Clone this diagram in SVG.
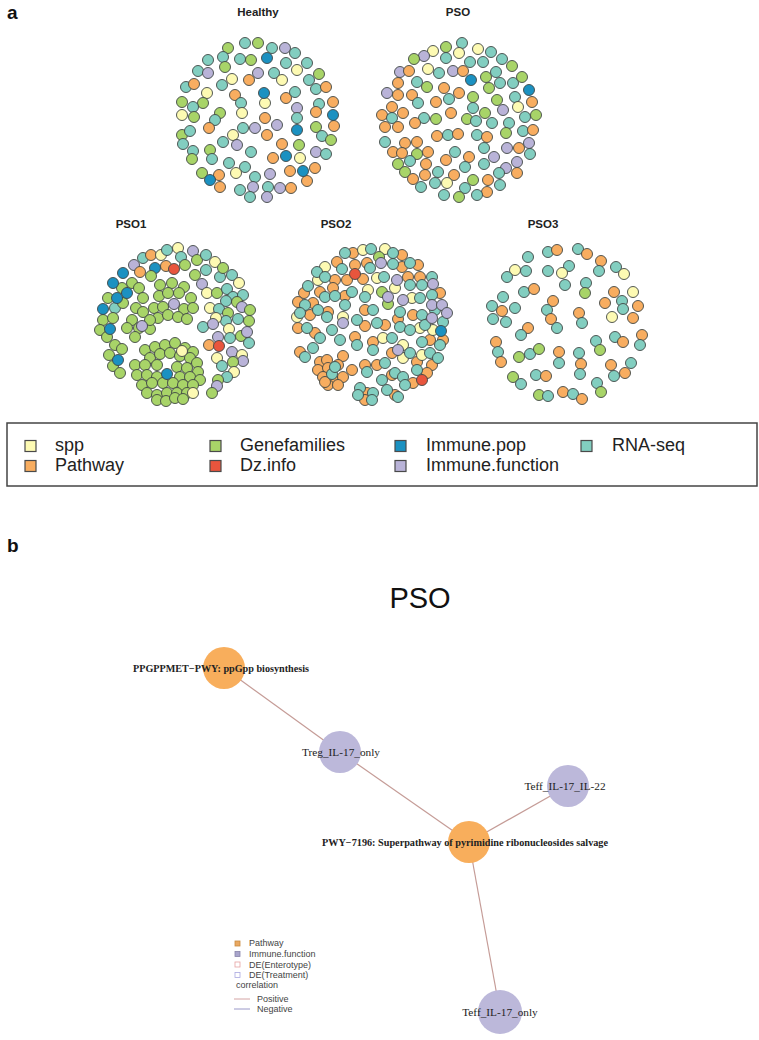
<svg xmlns="http://www.w3.org/2000/svg" width="759" height="1040" viewBox="0 0 759 1040">
<style>
.dots circle{r:5.5px;stroke:#3f4644;stroke-width:.9}
.y{fill:#fdfab3}.o{fill:#f8ad60}.g{fill:#a8d468}.r{fill:#e8553d}.b{fill:#1b91c1}.l{fill:#b9b3d8}.t{fill:#82cec0}
.ttl{font-family:"Liberation Sans",Arial,sans-serif;font-weight:bold;font-size:11.5px;fill:#222;text-anchor:middle}
.pl{font-family:"Liberation Sans",Arial,sans-serif;font-weight:bold;font-size:19px;fill:#111}
.lg{font-family:"Liberation Sans",Arial,sans-serif;font-size:18px;fill:#222}
.sw{stroke:#4a4a4a;stroke-width:1.2}
.nl{font-family:"Liberation Serif","Times New Roman",serif;font-size:11.3px;fill:#222;text-anchor:middle}
.nb{font-family:"Liberation Serif","Times New Roman",serif;font-size:10.5px;font-weight:bold;fill:#222;text-anchor:middle}
.edge{stroke:#c59c97;stroke-width:1.2;fill:none}
.bl{font-family:"Liberation Sans",Arial,sans-serif;font-size:9px;fill:#444}
</style>
<rect width="759" height="1040" fill="#fff"/>
<text class="pl" x="7" y="19">a</text>
<text class="ttl" x="258" y="16">Healthy</text>
<text class="ttl" x="458" y="16">PSO</text>
<text class="ttl" x="131" y="228">PSO1</text>
<text class="ttl" x="336" y="228">PSO2</text>
<text class="ttl" x="543" y="228">PSO3</text>
<g id="net-healthy" class="dots">
<circle class="t" cx="245" cy="43"/><circle class="g" cx="258" cy="43"/><circle class="t" cx="272" cy="48"/><circle class="l" cx="285" cy="48"/><circle class="t" cx="295" cy="53"/><circle class="g" cx="228" cy="48"/><circle class="t" cx="223" cy="57"/><circle class="g" cx="225" cy="67"/><circle class="t" cx="208" cy="60"/><circle class="t" cx="198" cy="71"/><circle class="l" cx="208" cy="73"/><circle class="t" cx="240" cy="59"/><circle class="g" cx="251" cy="60"/><circle class="b" cx="267" cy="58"/><circle class="t" cx="286" cy="63"/><circle class="y" cx="297" cy="70"/><circle class="t" cx="307" cy="63"/><circle class="l" cx="258" cy="73"/><circle class="o" cx="249" cy="80"/><circle class="t" cx="274" cy="73"/><circle class="y" cx="282" cy="80"/><circle class="y" cx="232" cy="79"/><circle class="t" cx="222" cy="85"/><circle class="g" cx="319" cy="74"/><circle class="t" cx="309" cy="80"/><circle class="t" cx="316" cy="89"/><circle class="o" cx="326" cy="87"/><circle class="t" cx="186" cy="87"/><circle class="o" cx="194" cy="84"/><circle class="y" cx="207" cy="93"/><circle class="g" cx="203" cy="103"/><circle class="t" cx="193" cy="107"/><circle class="g" cx="182" cy="102"/><circle class="y" cx="182" cy="115"/><circle class="g" cx="194" cy="117"/><circle class="o" cx="235" cy="95"/><circle class="t" cx="241" cy="103"/><circle class="y" cx="242" cy="113"/><circle class="y" cx="265" cy="103"/><circle class="b" cx="264" cy="93"/><circle class="o" cx="286" cy="98"/><circle class="t" cx="295" cy="92"/><circle class="t" cx="319" cy="104"/><circle class="o" cx="316" cy="112"/><circle class="o" cx="333" cy="102"/><circle class="o" cx="334" cy="126"/><circle class="b" cx="333" cy="115"/><circle class="l" cx="297" cy="108"/><circle class="t" cx="297" cy="118"/><circle class="b" cx="297" cy="130"/><circle class="o" cx="265" cy="118"/><circle class="l" cx="277" cy="125"/><circle class="o" cx="267" cy="135"/><circle class="g" cx="220" cy="113"/><circle class="t" cx="215" cy="120"/><circle class="o" cx="209" cy="128"/><circle class="t" cx="243" cy="128"/><circle class="l" cx="255" cy="128"/><circle class="g" cx="182" cy="135"/><circle class="t" cx="190" cy="131"/><circle class="t" cx="183" cy="144"/><circle class="y" cx="233" cy="135"/><circle class="t" cx="223" cy="142"/><circle class="l" cx="237" cy="145"/><circle class="g" cx="316" cy="127"/><circle class="t" cx="322" cy="136"/><circle class="g" cx="331" cy="140"/><circle class="o" cx="282" cy="144"/><circle class="g" cx="299" cy="145"/><circle class="y" cx="300" cy="158"/><circle class="o" cx="273" cy="158"/><circle class="b" cx="286" cy="156"/><circle class="l" cx="316" cy="152"/><circle class="t" cx="326" cy="154"/><circle class="g" cx="210" cy="150"/><circle class="t" cx="212" cy="159"/><circle class="t" cx="193" cy="151"/><circle class="g" cx="192" cy="159"/><circle class="t" cx="251" cy="152"/><circle class="t" cx="229" cy="163"/><circle class="t" cx="245" cy="167"/><circle class="y" cx="236" cy="173"/><circle class="g" cx="202" cy="173"/><circle class="o" cx="219" cy="175"/><circle class="o" cx="220" cy="187"/><circle class="b" cx="210" cy="180"/><circle class="o" cx="315" cy="168"/><circle class="o" cx="290" cy="171"/><circle class="o" cx="307" cy="181"/><circle class="b" cx="303" cy="171"/><circle class="t" cx="255" cy="177"/><circle class="l" cx="253" cy="187"/><circle class="t" cx="240" cy="190"/><circle class="t" cx="250" cy="197"/><circle class="l" cx="270" cy="174"/><circle class="t" cx="268" cy="187"/><circle class="l" cx="267" cy="197"/><circle class="l" cx="280" cy="188"/><circle class="o" cx="291" cy="188"/>
</g>
<g id="net-pso" class="dots">
<circle class="t" cx="462" cy="43"/><circle class="g" cx="446" cy="47"/><circle class="y" cx="433" cy="51"/><circle class="y" cx="459" cy="53"/><circle class="y" cx="478" cy="49"/><circle class="t" cx="491" cy="52"/><circle class="l" cx="424" cy="56"/><circle class="g" cx="414" cy="59"/><circle class="t" cx="446" cy="58"/><circle class="t" cx="470" cy="62"/><circle class="t" cx="483" cy="62"/><circle class="t" cx="502" cy="59"/><circle class="g" cx="512" cy="66"/><circle class="l" cx="400" cy="72"/><circle class="o" cx="409" cy="71"/><circle class="y" cx="428" cy="69"/><circle class="t" cx="439" cy="73"/><circle class="l" cx="453" cy="71"/><circle class="o" cx="463" cy="71"/><circle class="b" cx="471" cy="80"/><circle class="g" cx="486" cy="77"/><circle class="t" cx="496" cy="72"/><circle class="t" cx="500" cy="83"/><circle class="g" cx="489" cy="88"/><circle class="t" cx="513" cy="83"/><circle class="g" cx="522" cy="77"/><circle class="o" cx="398" cy="83"/><circle class="t" cx="417" cy="82"/><circle class="g" cx="427" cy="87"/><circle class="l" cx="387" cy="93"/><circle class="o" cx="398" cy="95"/><circle class="o" cx="444" cy="88"/><circle class="o" cx="459" cy="93"/><circle class="o" cx="436" cy="102"/><circle class="t" cx="449" cy="99"/><circle class="o" cx="451" cy="113"/><circle class="o" cx="412" cy="95"/><circle class="t" cx="418" cy="103"/><circle class="g" cx="473" cy="97"/><circle class="t" cx="473" cy="108"/><circle class="g" cx="497" cy="100"/><circle class="l" cx="503" cy="110"/><circle class="t" cx="515" cy="97"/><circle class="b" cx="529" cy="90"/><circle class="o" cx="532" cy="102"/><circle class="y" cx="518" cy="107"/><circle class="o" cx="392" cy="107"/><circle class="o" cx="403" cy="113"/><circle class="o" cx="382" cy="115"/><circle class="t" cx="392" cy="118"/><circle class="o" cx="385" cy="127"/><circle class="o" cx="398" cy="127"/><circle class="t" cx="424" cy="118"/><circle class="g" cx="436" cy="119"/><circle class="o" cx="415" cy="123"/><circle class="g" cx="485" cy="113"/><circle class="g" cx="467" cy="119"/><circle class="t" cx="476" cy="121"/><circle class="t" cx="492" cy="123"/><circle class="t" cx="509" cy="123"/><circle class="t" cx="525" cy="117"/><circle class="g" cx="536" cy="115"/><circle class="g" cx="506" cy="133"/><circle class="t" cx="523" cy="131"/><circle class="o" cx="533" cy="130"/><circle class="o" cx="437" cy="136"/><circle class="t" cx="448" cy="135"/><circle class="o" cx="458" cy="134"/><circle class="t" cx="477" cy="135"/><circle class="o" cx="487" cy="137"/><circle class="t" cx="385" cy="142"/><circle class="o" cx="393" cy="152"/><circle class="o" cx="405" cy="143"/><circle class="o" cx="417" cy="142"/><circle class="o" cx="402" cy="153"/><circle class="g" cx="417" cy="154"/><circle class="o" cx="428" cy="152"/><circle class="t" cx="484" cy="148"/><circle class="l" cx="507" cy="148"/><circle class="o" cx="519" cy="148"/><circle class="l" cx="529" cy="143"/><circle class="t" cx="530" cy="154"/><circle class="t" cx="455" cy="152"/><circle class="o" cx="446" cy="160"/><circle class="o" cx="469" cy="157"/><circle class="t" cx="410" cy="161"/><circle class="g" cx="398" cy="164"/><circle class="g" cx="405" cy="172"/><circle class="o" cx="426" cy="164"/><circle class="o" cx="425" cy="175"/><circle class="l" cx="494" cy="157"/><circle class="t" cx="484" cy="164"/><circle class="l" cx="506" cy="168"/><circle class="l" cx="517" cy="162"/><circle class="o" cx="517" cy="173"/><circle class="t" cx="465" cy="167"/><circle class="t" cx="438" cy="172"/><circle class="o" cx="413" cy="179"/><circle class="t" cx="421" cy="187"/><circle class="o" cx="454" cy="175"/><circle class="y" cx="447" cy="183"/><circle class="t" cx="435" cy="183"/><circle class="t" cx="444" cy="195"/><circle class="g" cx="473" cy="180"/><circle class="t" cx="465" cy="188"/><circle class="g" cx="459" cy="197"/><circle class="t" cx="499" cy="173"/><circle class="o" cx="488" cy="180"/><circle class="t" cx="500" cy="185"/><circle class="o" cx="487" cy="192"/><circle class="t" cx="477" cy="195"/>
</g>
<g id="net-pso1" class="dots">
<circle class="t" cx="143" cy="258"/><circle class="o" cx="151" cy="255"/><circle class="y" cx="161" cy="255"/><circle class="t" cx="167" cy="250"/><circle class="y" cx="178" cy="248"/><circle class="t" cx="181" cy="257"/><circle class="l" cx="193" cy="251"/><circle class="g" cx="197" cy="260"/><circle class="t" cx="206" cy="255"/><circle class="y" cx="215" cy="262"/><circle class="l" cx="134" cy="265"/><circle class="o" cx="140" cy="272"/><circle class="o" cx="166" cy="266"/><circle class="b" cx="155" cy="268"/><circle class="r" cx="174" cy="269"/><circle class="g" cx="185" cy="265"/><circle class="g" cx="151" cy="276"/><circle class="g" cx="132" cy="283"/><circle class="g" cx="139" cy="288"/><circle class="g" cx="122" cy="288"/><circle class="g" cx="108" cy="298"/><circle class="t" cx="115" cy="308"/><circle class="g" cx="123" cy="303"/><circle class="g" cx="103" cy="320"/><circle class="g" cx="113" cy="318"/><circle class="g" cx="100" cy="330"/><circle class="g" cx="107" cy="337"/><circle class="g" cx="115" cy="345"/><circle class="g" cx="122" cy="349"/><circle class="g" cx="109" cy="355"/><circle class="g" cx="113" cy="366"/><circle class="g" cx="120" cy="373"/><circle class="b" cx="123" cy="273"/><circle class="b" cx="113" cy="283"/><circle class="b" cx="127" cy="293"/><circle class="b" cx="117" cy="298"/><circle class="b" cx="103" cy="309"/><circle class="b" cx="110" cy="329"/><circle class="b" cx="118" cy="360"/>
<circle class="g" cx="160" cy="285"/><circle class="g" cx="172" cy="283"/><circle class="g" cx="184" cy="287"/><circle class="g" cx="159" cy="296"/><circle class="g" cx="168" cy="293"/><circle class="g" cx="179" cy="293"/><circle class="g" cx="191" cy="298"/><circle class="g" cx="154" cy="308"/><circle class="g" cx="163" cy="307"/><circle class="g" cx="184" cy="309"/><circle class="g" cx="193" cy="308"/><circle class="g" cx="158" cy="318"/><circle class="g" cx="168" cy="315"/><circle class="g" cx="178" cy="317"/><circle class="g" cx="187" cy="319"/><circle class="g" cx="143" cy="298"/><circle class="g" cx="136" cy="308"/><circle class="g" cx="132" cy="320"/><circle class="g" cx="139" cy="328"/><circle class="g" cx="150" cy="329"/><circle class="g" cx="127" cy="328"/><circle class="g" cx="135" cy="337"/><circle class="g" cx="143" cy="312"/><circle class="g" cx="150" cy="320"/><circle class="l" cx="174" cy="304"/><circle class="l" cx="142" cy="326"/>
<circle class="g" cx="145" cy="350"/><circle class="g" cx="155" cy="347"/><circle class="g" cx="165" cy="345"/><circle class="g" cx="175" cy="343"/><circle class="g" cx="185" cy="348"/><circle class="g" cx="193" cy="352"/><circle class="g" cx="150" cy="358"/><circle class="g" cx="160" cy="354"/><circle class="g" cx="170" cy="353"/><circle class="g" cx="180" cy="356"/><circle class="g" cx="190" cy="358"/><circle class="g" cx="197" cy="363"/><circle class="g" cx="135" cy="365"/><circle class="g" cx="145" cy="365"/><circle class="g" cx="157" cy="365"/><circle class="g" cx="177" cy="367"/><circle class="g" cx="187" cy="368"/><circle class="g" cx="198" cy="372"/><circle class="g" cx="137" cy="375"/><circle class="g" cx="147" cy="375"/><circle class="g" cx="157" cy="377"/><circle class="g" cx="180" cy="377"/><circle class="g" cx="190" cy="377"/><circle class="g" cx="200" cy="380"/><circle class="g" cx="142" cy="385"/><circle class="g" cx="152" cy="383"/><circle class="g" cx="163" cy="383"/><circle class="g" cx="173" cy="383"/><circle class="g" cx="183" cy="385"/><circle class="g" cx="193" cy="385"/><circle class="g" cx="147" cy="393"/><circle class="g" cx="157" cy="395"/><circle class="g" cx="167" cy="393"/><circle class="g" cx="177" cy="393"/><circle class="g" cx="187" cy="393"/><circle class="g" cx="157" cy="400"/><circle class="g" cx="166" cy="401"/><circle class="g" cx="175" cy="398"/><circle class="g" cx="183" cy="399"/><circle class="y" cx="182" cy="351"/><circle class="y" cx="193" cy="393"/><circle class="b" cx="167" cy="374"/>
<circle class="t" cx="206" cy="270"/><circle class="g" cx="195" cy="275"/><circle class="t" cx="220" cy="277"/><circle class="g" cx="223" cy="268"/><circle class="t" cx="232" cy="275"/><circle class="y" cx="239" cy="283"/><circle class="l" cx="202" cy="284"/><circle class="y" cx="207" cy="293"/><circle class="g" cx="217" cy="293"/><circle class="t" cx="227" cy="289"/><circle class="t" cx="233" cy="297"/><circle class="t" cx="243" cy="295"/><circle class="t" cx="226" cy="301"/><circle class="g" cx="237" cy="302"/><circle class="y" cx="210" cy="308"/><circle class="t" cx="219" cy="309"/><circle class="g" cx="228" cy="313"/><circle class="l" cx="242" cy="307"/><circle class="g" cx="250" cy="310"/><circle class="t" cx="238" cy="319"/><circle class="g" cx="249" cy="321"/><circle class="t" cx="226" cy="321"/><circle class="y" cx="216" cy="318"/><circle class="t" cx="203" cy="327"/><circle class="l" cx="213" cy="324"/><circle class="y" cx="229" cy="329"/><circle class="t" cx="230" cy="338"/><circle class="g" cx="241" cy="336"/><circle class="l" cx="247" cy="332"/><circle class="t" cx="249" cy="343"/><circle class="l" cx="218" cy="337"/><circle class="o" cx="209" cy="345"/><circle class="r" cx="219" cy="346"/><circle class="l" cx="232" cy="352"/><circle class="y" cx="242" cy="355"/><circle class="l" cx="243" cy="361"/><circle class="g" cx="233" cy="362"/><circle class="y" cx="217" cy="358"/><circle class="t" cx="222" cy="366"/><circle class="y" cx="234" cy="372"/><circle class="t" cx="227" cy="377"/><circle class="g" cx="218" cy="380"/><circle class="l" cx="217" cy="386"/><circle class="g" cx="212" cy="393"/>
</g>
<g id="net-pso2" class="dots">
<circle class="o" cx="353" cy="253"/><circle class="o" cx="402" cy="255"/><circle class="o" cx="402" cy="267"/><circle class="o" cx="418" cy="265"/><circle class="o" cx="337" cy="262"/><circle class="o" cx="363" cy="279"/><circle class="o" cx="355" cy="265"/><circle class="o" cx="367" cy="263"/><circle class="o" cx="335" cy="280"/><circle class="o" cx="347" cy="280"/><circle class="o" cx="408" cy="277"/><circle class="o" cx="420" cy="277"/><circle class="o" cx="304" cy="293"/><circle class="o" cx="320" cy="292"/><circle class="o" cx="333" cy="288"/><circle class="o" cx="345" cy="296"/><circle class="o" cx="440" cy="293"/><circle class="o" cx="298" cy="302"/><circle class="o" cx="313" cy="303"/><circle class="o" cx="310" cy="315"/><circle class="o" cx="328" cy="312"/><circle class="o" cx="365" cy="310"/><circle class="o" cx="365" cy="326"/><circle class="o" cx="385" cy="325"/><circle class="o" cx="398" cy="319"/><circle class="o" cx="413" cy="315"/><circle class="o" cx="298" cy="328"/><circle class="o" cx="315" cy="333"/><circle class="o" cx="355" cy="337"/><circle class="o" cx="373" cy="342"/><circle class="o" cx="443" cy="340"/><circle class="o" cx="430" cy="340"/><circle class="o" cx="300" cy="352"/><circle class="o" cx="392" cy="353"/><circle class="o" cx="432" cy="365"/><circle class="o" cx="320" cy="362"/><circle class="o" cx="327" cy="360"/><circle class="o" cx="343" cy="356"/><circle class="o" cx="318" cy="370"/><circle class="o" cx="328" cy="368"/><circle class="o" cx="338" cy="365"/><circle class="o" cx="352" cy="370"/><circle class="o" cx="323" cy="377"/><circle class="o" cx="333" cy="380"/><circle class="o" cx="343" cy="377"/><circle class="o" cx="328" cy="385"/><circle class="o" cx="338" cy="385"/><circle class="o" cx="325" cy="382"/><circle class="o" cx="365" cy="365"/><circle class="o" cx="377" cy="365"/><circle class="o" cx="392" cy="375"/><circle class="o" cx="413" cy="383"/><circle class="o" cx="417" cy="362"/><circle class="o" cx="427" cy="373"/><circle class="o" cx="367" cy="393"/><circle class="o" cx="365" cy="400"/><circle class="o" cx="395" cy="395"/>
<circle class="y" cx="363" cy="250"/><circle class="y" cx="385" cy="249"/><circle class="y" cx="325" cy="267"/><circle class="y" cx="318" cy="280"/><circle class="y" cx="377" cy="278"/><circle class="y" cx="368" cy="290"/><circle class="y" cx="395" cy="288"/><circle class="y" cx="412" cy="298"/><circle class="y" cx="297" cy="317"/><circle class="y" cx="343" cy="317"/><circle class="y" cx="383" cy="338"/><circle class="y" cx="420" cy="328"/><circle class="y" cx="433" cy="330"/><circle class="y" cx="403" cy="345"/><circle class="y" cx="403" cy="358"/><circle class="y" cx="422" cy="355"/>
<circle class="t" cx="371" cy="249"/><circle class="t" cx="345" cy="253"/><circle class="t" cx="393" cy="253"/><circle class="t" cx="393" cy="264"/><circle class="t" cx="410" cy="263"/><circle class="t" cx="317" cy="272"/><circle class="t" cx="342" cy="269"/><circle class="t" cx="370" cy="268"/><circle class="t" cx="325" cy="277"/><circle class="t" cx="384" cy="277"/><circle class="t" cx="410" cy="285"/><circle class="t" cx="422" cy="285"/><circle class="t" cx="432" cy="277"/><circle class="t" cx="308" cy="286"/><circle class="t" cx="325" cy="297"/><circle class="t" cx="335" cy="296"/><circle class="t" cx="365" cy="297"/><circle class="t" cx="352" cy="292"/><circle class="t" cx="420" cy="298"/><circle class="t" cx="432" cy="295"/><circle class="t" cx="305" cy="305"/><circle class="t" cx="318" cy="310"/><circle class="t" cx="300" cy="313"/><circle class="t" cx="327" cy="317"/><circle class="t" cx="345" cy="305"/><circle class="t" cx="373" cy="310"/><circle class="t" cx="357" cy="320"/><circle class="t" cx="377" cy="323"/><circle class="t" cx="400" cy="312"/><circle class="t" cx="400" cy="327"/><circle class="t" cx="422" cy="315"/><circle class="t" cx="435" cy="310"/><circle class="t" cx="443" cy="322"/><circle class="t" cx="307" cy="328"/><circle class="t" cx="320" cy="338"/><circle class="t" cx="332" cy="330"/><circle class="t" cx="340" cy="340"/><circle class="t" cx="357" cy="345"/><circle class="t" cx="373" cy="350"/><circle class="t" cx="392" cy="338"/><circle class="t" cx="410" cy="330"/><circle class="t" cx="425" cy="325"/><circle class="t" cx="422" cy="342"/><circle class="t" cx="305" cy="357"/><circle class="t" cx="313" cy="348"/><circle class="t" cx="410" cy="353"/><circle class="t" cx="430" cy="353"/><circle class="t" cx="438" cy="358"/><circle class="t" cx="440" cy="345"/><circle class="t" cx="332" cy="374"/><circle class="t" cx="335" cy="367"/><circle class="t" cx="367" cy="372"/><circle class="t" cx="385" cy="363"/><circle class="t" cx="382" cy="380"/><circle class="t" cx="395" cy="373"/><circle class="t" cx="403" cy="377"/><circle class="t" cx="405" cy="385"/><circle class="t" cx="417" cy="370"/><circle class="t" cx="360" cy="388"/><circle class="t" cx="358" cy="395"/><circle class="t" cx="373" cy="393"/><circle class="t" cx="372" cy="400"/><circle class="t" cx="387" cy="390"/><circle class="t" cx="398" cy="397"/>
<circle class="g" cx="379" cy="257"/><circle class="g" cx="382" cy="292"/><circle class="g" cx="388" cy="304"/><circle class="l" cx="381" cy="263"/><circle class="l" cx="397" cy="280"/><circle class="l" cx="433" cy="284"/><circle class="l" cx="388" cy="297"/><circle class="l" cx="403" cy="300"/><circle class="l" cx="432" cy="305"/><circle class="l" cx="442" cy="305"/><circle class="l" cx="343" cy="323"/><circle class="l" cx="432" cy="318"/><circle class="l" cx="447" cy="313"/><circle class="l" cx="398" cy="350"/><circle class="r" cx="355" cy="274"/><circle class="r" cx="422" cy="380"/><circle class="b" cx="441" cy="331"/>
</g>
<g id="net-pso3" class="dots">
<circle class="t" cx="528" cy="257"/><circle class="y" cx="515" cy="270"/><circle class="t" cx="526" cy="271"/><circle class="t" cx="507" cy="277"/><circle class="t" cx="548" cy="252"/><circle class="o" cx="557" cy="250"/><circle class="t" cx="578" cy="249"/><circle class="o" cx="587" cy="254"/><circle class="o" cx="601" cy="261"/><circle class="t" cx="599" cy="271"/><circle class="t" cx="616" cy="267"/><circle class="y" cx="624" cy="274"/><circle class="t" cx="548" cy="271"/><circle class="t" cx="569" cy="266"/><circle class="y" cx="562" cy="273"/><circle class="t" cx="565" cy="285"/><circle class="t" cx="586" cy="283"/><circle class="g" cx="585" cy="293"/><circle class="t" cx="524" cy="292"/><circle class="o" cx="534" cy="289"/><circle class="t" cx="503" cy="297"/><circle class="t" cx="492" cy="306"/><circle class="o" cx="502" cy="311"/><circle class="t" cx="515" cy="308"/><circle class="t" cx="493" cy="319"/><circle class="t" cx="506" cy="322"/><circle class="o" cx="553" cy="301"/><circle class="t" cx="547" cy="310"/><circle class="o" cx="551" cy="319"/><circle class="t" cx="557" cy="328"/><circle class="o" cx="579" cy="313"/><circle class="t" cx="582" cy="323"/><circle class="o" cx="614" cy="292"/><circle class="y" cx="633" cy="292"/><circle class="o" cx="605" cy="303"/><circle class="y" cx="612" cy="317"/><circle class="o" cx="633" cy="318"/><circle class="o" cx="638" cy="306"/><circle class="t" cx="622" cy="301"/><circle class="t" cx="623" cy="309"/><circle class="o" cx="528" cy="328"/><circle class="t" cx="521" cy="335"/><circle class="o" cx="496" cy="342"/><circle class="t" cx="498" cy="352"/><circle class="o" cx="501" cy="362"/><circle class="g" cx="519" cy="357"/><circle class="t" cx="530" cy="354"/><circle class="g" cx="539" cy="349"/><circle class="o" cx="559" cy="352"/><circle class="t" cx="559" cy="363"/><circle class="t" cx="596" cy="341"/><circle class="g" cx="600" cy="350"/><circle class="t" cx="615" cy="337"/><circle class="o" cx="623" cy="342"/><circle class="o" cx="642" cy="335"/><circle class="t" cx="640" cy="345"/><circle class="t" cx="579" cy="353"/><circle class="o" cx="581" cy="364"/><circle class="t" cx="580" cy="374"/><circle class="o" cx="611" cy="365"/><circle class="t" cx="614" cy="376"/><circle class="t" cx="631" cy="363"/><circle class="o" cx="625" cy="373"/><circle class="g" cx="513" cy="377"/><circle class="t" cx="521" cy="384"/><circle class="t" cx="536" cy="375"/><circle class="o" cx="546" cy="376"/><circle class="g" cx="539" cy="395"/><circle class="t" cx="548" cy="396"/><circle class="o" cx="563" cy="392"/><circle class="t" cx="573" cy="394"/><circle class="o" cx="582" cy="399"/><circle class="t" cx="597" cy="383"/><circle class="g" cx="601" cy="392"/>
</g>
<g id="legend-a">
<rect x="7" y="423" width="750" height="63" fill="#fff" stroke="#444" stroke-width="1.5"/>
<rect class="sw y" x="25" y="440.5" width="11" height="11"/><text class="lg" x="55" y="451">spp</text>
<rect class="sw o" x="25" y="460.5" width="11" height="11"/><text class="lg" x="55" y="471">Pathway</text>
<rect class="sw g" x="210" y="440.5" width="11" height="11"/><text class="lg" x="240" y="451">Genefamilies</text>
<rect class="sw r" x="210" y="460.5" width="11" height="11"/><text class="lg" x="240" y="471">Dz.info</text>
<rect class="sw b" x="395" y="440.5" width="11" height="11"/><text class="lg" x="426" y="451">Immune.pop</text>
<rect class="sw l" x="395" y="460.5" width="11" height="11"/><text class="lg" x="426" y="471">Immune.function</text>
<rect class="sw t" x="581" y="440.5" width="11" height="11"/><text class="lg" x="612" y="451">RNA-seq</text>
</g>
<text class="pl" x="7" y="552">b</text>
<text x="420" y="608" font-family="Liberation Sans, Arial, sans-serif" font-size="29" fill="#111" text-anchor="middle">PSO</text>
<g id="connectors">
<line class="edge" x1="224" y1="668" x2="340" y2="752"/>
<line class="edge" x1="340" y1="752" x2="469" y2="842"/>
<line class="edge" x1="469" y1="842" x2="568" y2="786"/>
<line class="edge" x1="469" y1="842" x2="500" y2="1012"/>
</g>
<g id="node-ppgppmet"><circle cx="224" cy="668" r="21" fill="#f8ae5c"/><text class="nb" x="221" y="672" textLength="176" lengthAdjust="spacingAndGlyphs">PPGPPMET−PWY: ppGpp biosynthesis</text></g>
<g id="node-treg"><circle cx="340" cy="752" r="21" fill="#bcb8da"/><text class="nl" x="341" y="756">Treg_IL-17_only</text></g>
<g id="node-teff22"><circle cx="568" cy="786" r="21" fill="#bcb8da"/><text class="nl" x="565" y="790">Teff_IL-17_IL-22</text></g>
<g id="node-pwy7196"><circle cx="469" cy="842" r="21" fill="#f8ae5c"/><text class="nb" x="465" y="846" textLength="286" lengthAdjust="spacingAndGlyphs">PWY−7196: Superpathway of pyrimidine ribonucleosides salvage</text></g>
<g id="node-teffonly"><circle cx="500" cy="1012" r="22" fill="#bcb8da"/><text class="nl" x="500" y="1016">Teff_IL-17_only</text></g>
<g id="legend-b">
<rect x="235" y="941" width="5" height="5" fill="#e9a862" stroke="#c98a40" stroke-width=".8"/><text class="bl" x="249" y="946">Pathway</text>
<rect x="235" y="951.5" width="5" height="5" fill="#a9a5cc" stroke="#8884aa" stroke-width=".8"/><text class="bl" x="249" y="957">Immune.function</text>
<rect x="235" y="962" width="5" height="5" fill="#fff" stroke="#e6a2a2" stroke-width=".8"/><text class="bl" x="249" y="967.5">DE(Enterotype)</text>
<rect x="235" y="972.5" width="5" height="5" fill="#fff" stroke="#aaa8e0" stroke-width=".8"/><text class="bl" x="249" y="978">DE(Treatment)</text>
<text class="bl" x="236" y="988">correlation</text>
<line x1="234" y1="999" x2="250" y2="999" stroke="#d4a4a4" stroke-width="1"/><text class="bl" x="257" y="1002">Positive</text>
<line x1="234" y1="1009" x2="250" y2="1009" stroke="#9a98c8" stroke-width="1"/><text class="bl" x="257" y="1012">Negative</text>
</g>
</svg>
